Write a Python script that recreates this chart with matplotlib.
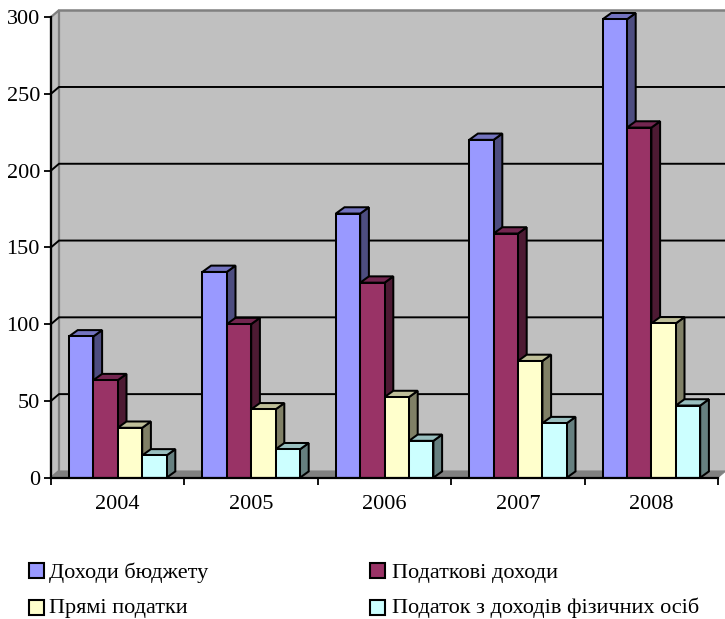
import matplotlib
matplotlib.use("Agg")
import matplotlib.pyplot as plt
from matplotlib.patches import Polygon, Rectangle

years = ["2004", "2005", "2006", "2007", "2008"]
series_names = ["Доходи бюджету", "Податкові доходи", "Прямі податки", "Податок з доходів фізичних осіб"]
budget_income = [92, 134, 172, 220, 298.5]
tax_income = [63.5, 100, 127, 159, 228]
direct_taxes = [32.5, 44.5, 52.5, 76, 100.5]
personal_tax = [14.5, 18.5, 24, 35.5, 47]
y_ticks = [0, 50, 100, 150, 200, 250, 300]

front_colors = ["#9999FF", "#993366", "#FFFFCC", "#CCFFFF"]
top_colors = ["#7373BF", "#732650", "#BFBF99", "#99BFBF"]
side_colors = ["#4D4D80", "#4D1A33", "#808066", "#668080"]

plt.rcParams["font.family"] = ["Liberation Serif", "DejaVu Serif"]
W, H = 725, 619
fig = plt.figure(figsize=(W / 100, H / 100), dpi=100)
x0, x1, y0, y1 = 51, 718, 477.7, 17
ax = fig.add_axes([x0 / W, 1 - y0 / H, (x1 - x0) / W, (y0 - y1) / H])
ax.set_xlim(0, 5)
ax.set_ylim(0, 300)

# pixel-to-data factors for the oblique depth of the walls and columns
ux = 5 / (x1 - x0)
uy = 300 / (y0 - y1)
wall_dx, wall_dy = 8 * ux, 6.8 * uy
bar_dx, bar_dy = 8.7 * ux, 6.3 * uy

def poly(pts, **kw):
    kw.setdefault("clip_on", False)
    p = Polygon(pts, closed=True, **kw)
    ax.add_patch(p)
    return p

# back wall, side wall and floor
poly([(wall_dx, wall_dy), (5 + wall_dx, wall_dy), (5 + wall_dx, 300 + wall_dy), (wall_dx, 300 + wall_dy)],
     facecolor="#C0C0C0", edgecolor="none", zorder=1)
poly([(0, 0), (wall_dx, wall_dy), (wall_dx, 300 + wall_dy), (0, 300)],
     facecolor="#C0C0C0", edgecolor="#808080", linewidth=1.6, zorder=1.2)
ax.plot([wall_dx, 5 + wall_dx], [300 + wall_dy] * 2, color="#808080", lw=1.8, zorder=1.2, clip_on=False)
poly([(0, 0), (5, 0), (5 + wall_dx, wall_dy), (wall_dx, wall_dy)],
     facecolor="#808080", edgecolor="#808080", linewidth=0.6, zorder=1.3)

# grid lines run along the back wall and step across the side wall
for v in y_ticks[1:-1]:
    ax.plot([0, wall_dx, 5 + wall_dx], [v, v + wall_dy, v + wall_dy], color="black", lw=1.4,
            zorder=1.5, clip_on=False, solid_joinstyle="miter")

# 3D columns
group_start = 18 / 133.4
bar_w = 24.4 / 133.4
all_series = [budget_income, tax_income, direct_taxes, personal_tax]
z = 2.0
for g in range(len(years)):
    for s, values in enumerate(all_series):
        left = g + group_start + s * bar_w
        right = left + bar_w
        v = values[g]
        style = dict(edgecolor="black", linewidth=1.45, joinstyle="miter")
        poly([(right, 0), (right + bar_dx, bar_dy), (right + bar_dx, v + bar_dy), (right, v)],
             facecolor=side_colors[s], zorder=z, **style)
        poly([(left, v), (right, v), (right + bar_dx, v + bar_dy), (left + bar_dx, v + bar_dy)],
             facecolor=top_colors[s], zorder=z + 0.01, **style)
        poly([(left, 0), (right, 0), (right, v), (left, v)],
             facecolor=front_colors[s], zorder=z + 0.02, **style)
        z += 0.1

# axes
for name in ("top", "right"):
    ax.spines[name].set_visible(False)
for name in ("left", "bottom"):
    ax.spines[name].set_linewidth(1.6)
    ax.spines[name].set_zorder(50)
ax.patch.set_visible(False)
ax.set_yticks(y_ticks)
ax.set_xticks(range(6))
ax.set_xticklabels([])
ax.set_xticks([i + 0.5 for i in range(5)], minor=True)
ax.set_xticklabels(years, minor=True, fontsize=16)
ax.tick_params(axis="x", which="minor", length=0, pad=12.5)
ax.tick_params(axis="x", which="major", length=5, width=1.3)
ax.tick_params(axis="y", length=5, width=1.3, labelsize=16, pad=3)

# legend laid out as two columns under the plot: swatch box and label baseline
swatch_lefts = [28.5, 370, 28.5, 370]
swatch_centers = [570.7, 570.7, 607.5, 607.5]
label_lefts = [49, 391.5, 49, 391.5]
label_baselines = [578, 578, 613.5, 613.5]
for i, name in enumerate(series_names):
    fig.add_artist(Rectangle((swatch_lefts[i] / W, 1 - (swatch_centers[i] + 7.5) / H), 15 / W, 15 / H,
                             transform=fig.transFigure, facecolor=front_colors[i],
                             edgecolor="black", linewidth=1.5))
    fig.text(label_lefts[i] / W, 1 - label_baselines[i] / H, name, fontsize=16, va="baseline", ha="left")

fig.savefig("out.png", dpi=100, facecolor="white")
